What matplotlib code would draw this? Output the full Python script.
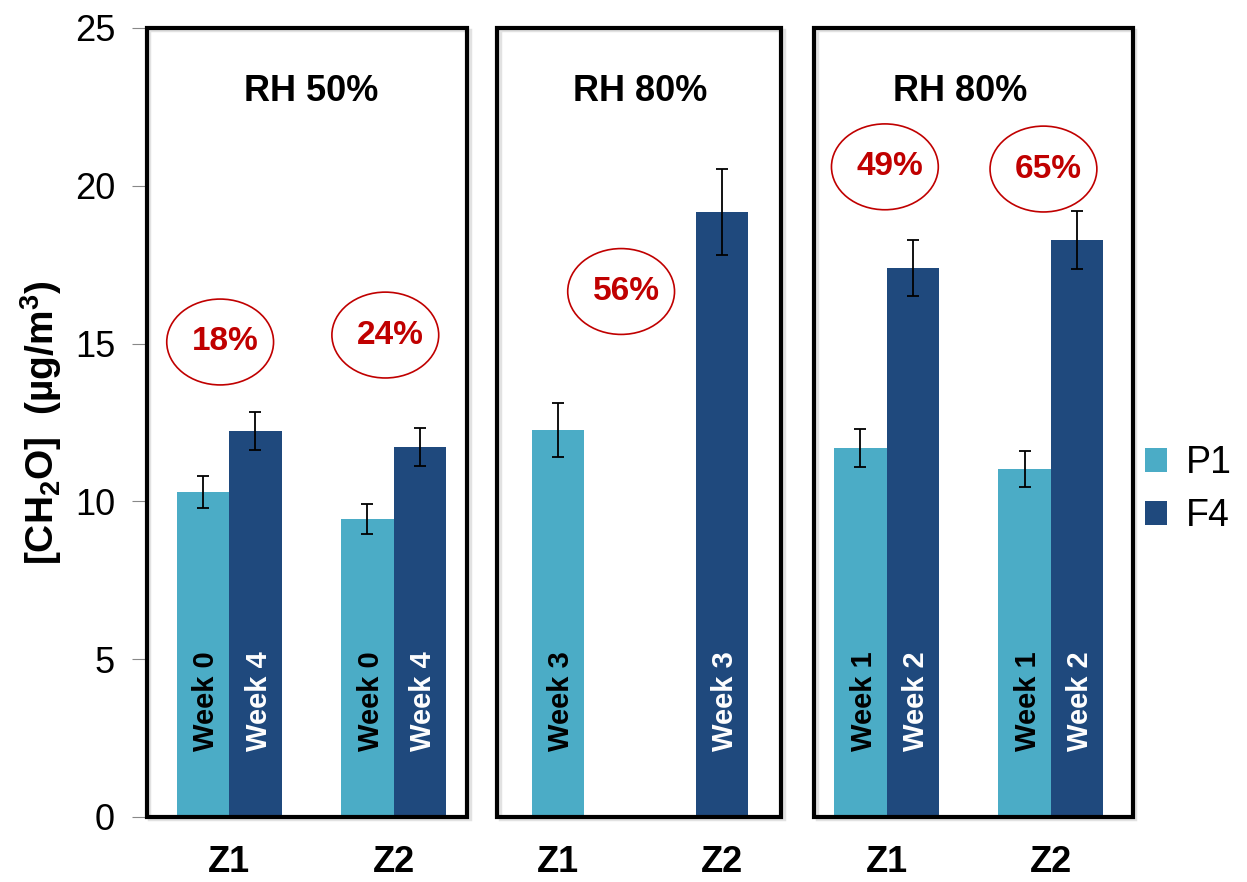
import numpy as np
from matplotlib import pyplot as plt
from matplotlib.patches import Rectangle, Ellipse

plt.rcParams['font.family'] = ['Liberation Sans', 'DejaVu Sans']
plt.rcParams['mathtext.default'] = 'regular'

zones = ['Z1', 'Z2', 'Z1', 'Z2', 'Z1', 'Z2']
conditions = ['RH 50%', 'RH 80%', 'RH 80%']

# formaldehyde concentrations (ug/m3), nan where a sensor was not measured
p1_values = [10.30, 9.44, 12.26, np.nan, 11.69, 11.03]
p1_errors = [0.52, 0.47, 0.86, np.nan, 0.60, 0.56]
f4_values = [12.23, 11.72, np.nan, 19.17, 17.40, 18.28]
f4_errors = [0.61, 0.59, np.nan, 1.35, 0.88, 0.92]

p1_weeks = ['Week 0', 'Week 0', 'Week 3', '', 'Week 1', 'Week 1']
f4_weeks = ['Week 4', 'Week 4', '', 'Week 3', 'Week 2', 'Week 2']

increase_labels = ['18%', '24%', '56%', '49%', '65%']

P1_COLOR = '#4BACC6'
F4_COLOR = '#1F497D'
RED = '#C00000'
BAR_W = 0.32

fig = plt.figure(figsize=(12.47, 8.82), dpi=100)
ax = fig.add_axes([0.1179, 0.0737, 0.7907, 0.8946])

x = np.arange(len(zones))
for i in x:
    both = not (np.isnan(p1_values[i]) or np.isnan(f4_values[i]))
    off = BAR_W / 2 if both else 0
    if not np.isnan(p1_values[i]):
        ax.bar(i - off, p1_values[i], BAR_W, color=P1_COLOR, zorder=2)
        ax.errorbar(i - off, p1_values[i], yerr=p1_errors[i], fmt='none',
                    ecolor='black', elinewidth=1.3, capsize=4.5, capthick=1.3, zorder=3)
        ax.text(i - off + 0.02, 2.1, p1_weeks[i], rotation=90, ha='center', va='bottom',
                fontsize=21, fontweight='bold', color='black', zorder=4)
    if not np.isnan(f4_values[i]):
        ax.bar(i + off, f4_values[i], BAR_W, color=F4_COLOR, zorder=2)
        ax.errorbar(i + off, f4_values[i], yerr=f4_errors[i], fmt='none',
                    ecolor='black', elinewidth=1.3, capsize=4.5, capthick=1.3, zorder=3)
        ax.text(i + off + 0.02, 2.1, f4_weeks[i], rotation=90, ha='center', va='bottom',
                fontsize=21, fontweight='bold', color='white', zorder=4)

# legend proxies
ax.bar(0, 0, 0, color=P1_COLOR, label='P1')
ax.bar(0, 0, 0, color=F4_COLOR, label='F4')

# frames around each humidity condition
boxes = [(-0.5, 1.45), (1.63, 3.36), (3.56, 5.5)]
title_x = [0.5, 2.5, 4.45]
for (x0, x1), cond, tx in zip(boxes, conditions, title_x):
    ax.add_patch(Rectangle((x0 + 0.015, -0.07), x1 - x0, 25, fill=False, lw=2.5,
                           edgecolor='#e2e2e2', clip_on=False, zorder=4))
    ax.add_patch(Rectangle((x0, 0), x1 - x0, 25, fill=False, lw=3,
                           edgecolor='black', clip_on=False, zorder=5))
    ax.text(tx, 23.0, cond, ha='center', va='center', fontsize=26, fontweight='bold')

# increase annotations
ell_pos = [(-0.055, 15.05), (0.95, 15.27), (2.385, 16.65), (3.99, 20.6), (4.955, 20.53)]
for (ex, ey), lab in zip(ell_pos, increase_labels):
    ax.add_patch(Ellipse((ex, ey), 0.65, 2.72, fill=False, edgecolor=RED, lw=1.2, zorder=4))
    ax.text(ex + 0.03, ey, lab, ha='center', va='center', fontsize=24,
            fontweight='bold', color=RED, zorder=5)

ax.set_xlim(-0.5, 5.5)
ax.set_ylim(0, 25)
ax.set_yticks([0, 5, 10, 15, 20, 25])
ax.set_xticks(x)
ax.set_xticklabels(zones, fontsize=26, fontweight='bold')
ax.tick_params(axis='x', length=0, pad=20)
ax.tick_params(axis='y', length=11, color='#888888', labelsize=26, pad=12)
for s in ax.spines.values():
    s.set_visible(False)

ax.set_ylabel('[CH$_2$O]  (µg/m$^3$)', fontsize=28, fontweight='bold', labelpad=8)

fig.legend(loc='center left', bbox_to_anchor=(0.918, 0.445), frameon=False,
           fontsize=27, handlelength=0.6, handleheight=0.6, handletextpad=0.5,
           labelspacing=0.45, borderpad=0, borderaxespad=0)

fig.savefig('out.png', dpi=100)
